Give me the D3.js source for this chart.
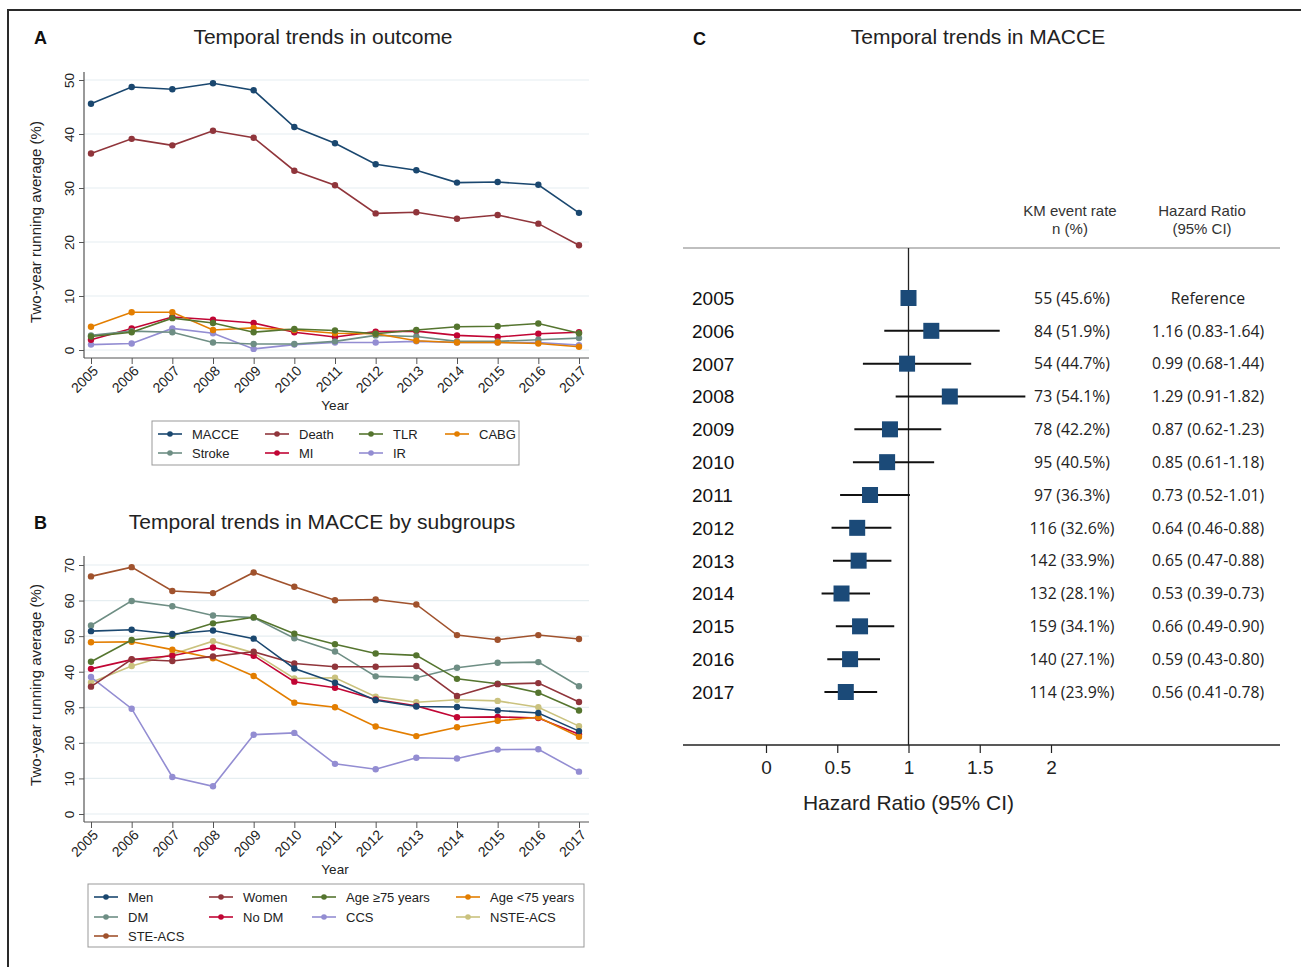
<!DOCTYPE html>
<html><head><meta charset="utf-8">
<script src="https://cdn.jsdelivr.net/npm/d3@7"></script>
<style>
body{margin:0;background:#fff;}
svg{display:block;font-family:"Liberation Sans",Arial,sans-serif;}
</style></head>
<body><svg id="c" width="1301" height="967"></svg>
<script>
// ---------- DATA ----------
const years = [2005,2006,2007,2008,2009,2010,2011,2012,2013,2014,2015,2016,2017];
const yTicksA = [0,10,20,30,40,50];
const yTicksB = [0,10,20,30,40,50,60,70];

// Panel A
const macce  = [45.6,48.7,48.3,49.4,48.1,41.3,38.3,34.4,33.3,31.0,31.1,30.6,25.4];
const death  = [36.4,39.1,37.9,40.6,39.3,33.2,30.5,25.3,25.5,24.3,25.0,23.4,19.4];
const tlr    = [2.5,3.3,5.9,5.0,3.3,3.9,3.6,3.0,3.7,4.3,4.4,4.9,3.1];
const cabg   = [4.3,7.0,7.0,3.7,4.1,3.7,3.1,3.0,1.7,1.4,1.4,1.2,0.6];
const stroke = [2.7,3.5,3.3,1.4,1.1,1.1,1.6,2.7,2.5,1.6,1.6,1.9,2.2];
const mi     = [1.9,4.0,6.1,5.6,5.0,3.3,2.4,3.4,3.5,2.7,2.4,3.0,3.3];
const ir     = [1.0,1.2,4.0,3.1,0.2,1.0,1.4,1.4,1.6,1.4,1.4,1.4,0.9];

// Panel B
const men     = [51.4,51.8,50.6,51.6,49.3,40.9,36.9,32.0,30.2,30.1,29.1,28.4,23.3];
const women   = [35.8,43.5,43.0,44.3,45.6,42.3,41.4,41.4,41.6,33.2,36.5,36.8,31.5];
const age75p  = [42.8,48.9,50.1,53.6,55.3,50.7,47.7,45.1,44.6,38.0,36.6,34.1,29.1];
const age75m  = [48.3,48.4,46.2,43.8,38.8,31.3,30.0,24.6,21.9,24.4,26.2,27.2,21.7];
const dm      = [53.0,59.9,58.4,55.8,55.2,49.4,45.7,38.7,38.3,41.1,42.5,42.7,35.9];
const nodm    = [40.8,43.4,44.5,46.8,44.5,37.2,35.5,32.2,30.4,27.2,27.3,27.0,22.4];
const ccs     = [38.5,29.6,10.4,7.8,22.3,22.8,14.1,12.6,15.8,15.6,18.1,18.2,11.9];
const nste    = [37.0,41.6,44.9,48.6,45.3,38.1,38.3,33.0,31.4,32.1,31.8,30.0,24.7];
const ste     = [66.8,69.4,62.7,62.1,67.9,63.9,60.1,60.3,58.9,50.3,49.0,50.3,49.2];

// Panel C
const kmText = ["55 (45.6%)","84 (51.9%)","54 (44.7%)","73 (54.1%)","78 (42.2%)","95 (40.5%)","97 (36.3%)","116 (32.6%)","142 (33.9%)","132 (28.1%)","159 (34.1%)","140 (27.1%)","114 (23.9%)"];
const hr   = [1.00,1.16,0.99,1.29,0.87,0.85,0.73,0.64,0.65,0.53,0.66,0.59,0.56];
const hrLo = [null,0.83,0.68,0.91,0.62,0.61,0.52,0.46,0.47,0.39,0.49,0.43,0.41];
const hrHi = [null,1.64,1.44,1.82,1.23,1.18,1.01,0.88,0.88,0.73,0.90,0.80,0.78];
const hrText = ["Reference","1.16 (0.83-1.64)","0.99 (0.68-1.44)","1.29 (0.91-1.82)","0.87 (0.62-1.23)","0.85 (0.61-1.18)","0.73 (0.52-1.01)","0.64 (0.46-0.88)","0.65 (0.47-0.88)","0.53 (0.39-0.73)","0.66 (0.49-0.90)","0.59 (0.43-0.80)","0.56 (0.41-0.78)"];
const hrTicks = [0,0.5,1,1.5,2];

const C = {navy:"#1a476f",maroon:"#90353b",forest:"#55752f",dkorange:"#e37e00",teal:"#6e8e84",cranberry:"#c10534",lavender:"#938dd2",khaki:"#cac27e",sienna:"#a0522d"};

const seriesA = [
  {name:"MACCE",v:macce,c:C.navy},{name:"Death",v:death,c:C.maroon},{name:"TLR",v:tlr,c:C.forest},{name:"CABG",v:cabg,c:C.dkorange},
  {name:"Stroke",v:stroke,c:C.teal},{name:"MI",v:mi,c:C.cranberry},{name:"IR",v:ir,c:C.lavender}];
const seriesB = [
  {name:"Men",v:men,c:C.navy},{name:"Women",v:women,c:C.maroon},{name:"Age \u226575 years",v:age75p,c:C.forest},{name:"Age <75 years",v:age75m,c:C.dkorange},
  {name:"DM",v:dm,c:C.teal},{name:"No DM",v:nodm,c:C.cranberry},{name:"CCS",v:ccs,c:C.lavender},{name:"NSTE-ACS",v:nste,c:C.khaki},
  {name:"STE-ACS",v:ste,c:C.sienna}];

const svg = d3.select("#c");

// frame
svg.append("rect").attr("x",8).attr("y",10).attr("width",1310).attr("height",980)
  .attr("fill","none").attr("stroke","#2a2a2a").attr("stroke-width",2);

function linePanel(o){
  const g = svg.append("g");
  const x = d3.scaleLinear().domain([2005,2017]).range([91,579]);
  const y = d3.scaleLinear().domain([0,o.ymax]).range([o.y0,o.y1]);
  g.selectAll(".gr").data(o.ticks).join("line")
    .attr("x1",84).attr("x2",589).attr("y1",d=>y(d)).attr("y2",d=>y(d))
    .attr("stroke","#e6eef1").attr("stroke-width",1.2);
  const ya = g.append("g").attr("transform","translate(84,0)")
    .call(d3.axisLeft(y).tickValues(o.ticks).tickSize(5).tickSizeOuter(0));
  ya.select(".domain").remove();
  ya.selectAll(".tick line").attr("stroke","#555");
  ya.selectAll(".tick text").attr("x",0).attr("y",0).attr("dy",0)
    .attr("text-anchor","middle").attr("font-size",13.5).attr("fill","#222")
    .attr("font-family","Liberation Sans, Arial, sans-serif")
    .attr("transform","translate(-14,0) rotate(-90)").attr("dominant-baseline","middle");
  g.append("line").attr("x1",84).attr("x2",84).attr("y1",o.top).attr("y2",o.bottom).attr("stroke","#555").attr("stroke-width",1.2);
  const xa = g.append("g").attr("transform",`translate(0,${o.bottom})`)
    .call(d3.axisBottom(x).tickValues(years).tickFormat(d3.format("d")).tickSize(6).tickSizeOuter(0));
  xa.select(".domain").remove();
  xa.selectAll(".tick line").attr("stroke","#555");
  xa.selectAll(".tick text").attr("font-size",14).attr("fill","#222")
    .attr("font-family","Liberation Sans, Arial, sans-serif")
    .attr("text-anchor","end").attr("dy",0).attr("y",0)
    .attr("transform","translate(5,11) rotate(-45)").attr("dominant-baseline","middle");
  g.append("line").attr("x1",84).attr("x2",589).attr("y1",o.bottom).attr("y2",o.bottom).attr("stroke","#555").attr("stroke-width",1.2);
  g.append("text").attr("x",335).attr("y",o.bottom+52).attr("text-anchor","middle").attr("font-size",13.5).attr("fill","#222").text("Year");
  g.append("text").attr("transform",`translate(41,${o.ylabY}) rotate(-90)`).attr("text-anchor","middle")
    .attr("font-size",15).attr("fill","#222").text("Two-year running average (%)");
  const ln = d3.line().x((d,i)=>x(years[i])).y(d=>y(d));
  o.series.slice().reverse().forEach(s=>{
    g.append("path").attr("d",ln(s.v)).attr("fill","none").attr("stroke",s.c).attr("stroke-width",1.6);
    g.selectAll(null).data(s.v).join("circle").attr("cx",(d,i)=>x(years[i])).attr("cy",d=>y(d)).attr("r",3.2).attr("fill",s.c);
  });
  svg.append("text").attr("x",o.titleX).attr("y",o.titleY).attr("text-anchor","middle").attr("font-size",21).attr("fill","#222").text(o.title);
  svg.append("text").attr("x",34).attr("y",o.titleY).attr("font-size",18).attr("font-weight","bold").attr("fill","#111").text(o.letter);
  const L = o.legend;
  g.append("rect").attr("x",L.x).attr("y",L.y).attr("width",L.w).attr("height",L.h).attr("fill","#fff").attr("stroke","#999");
  o.series.forEach((s,i)=>{
    const col = i % 4, row = Math.floor(i/4);
    const lx = L.cols[col], ly = L.rows[row];
    g.append("line").attr("x1",lx).attr("x2",lx+24).attr("y1",ly).attr("y2",ly).attr("stroke",s.c).attr("stroke-width",1.6);
    g.append("circle").attr("cx",lx+12).attr("cy",ly).attr("r",2.8).attr("fill",s.c);
    g.append("text").attr("x",lx+34).attr("y",ly).attr("dy","0.35em").attr("font-size",13).attr("fill","#222").text(s.name);
  });
}

linePanel({series:seriesA,ymax:50,ticks:yTicksA,y0:350,y1:80,top:72,bottom:358,ylabY:222,
  title:"Temporal trends in outcome",titleX:323,titleY:44,letter:"A",
  legend:{x:152,y:421,w:367,h:44,cols:[158,265,359,445],rows:[434,453]}});
linePanel({series:seriesB,ymax:70,ticks:yTicksB,y0:814,y1:565,top:556,bottom:822,ylabY:685,
  title:"Temporal trends in MACCE by subgroups",titleX:322,titleY:529,letter:"B",
  legend:{x:88,y:884,w:496,h:63,cols:[94,209,312,456],rows:[897,917,936]}});

// ---------- Panel C ----------
const gc = svg.append("g");
const hx = d3.scaleLinear().domain([0,2]).range([766,1051]);
const ry = d3.scaleLinear().domain([0,12]).range([298,692]);
svg.append("text").attr("x",978).attr("y",44).attr("text-anchor","middle").attr("font-size",21).attr("fill","#222").text("Temporal trends in MACCE");
svg.append("text").attr("x",693).attr("y",45).attr("font-size",18).attr("font-weight","bold").attr("fill","#111").text("C");

gc.append("line").attr("x1",683).attr("x2",1280).attr("y1",248).attr("y2",248).attr("stroke","#aaa").attr("stroke-width",1.3);
gc.append("line").attr("x1",hx(1)).attr("x2",hx(1)).attr("y1",248).attr("y2",745).attr("stroke","#222").attr("stroke-width",1.3);
const xa = gc.append("g").attr("transform","translate(0,745)")
  .call(d3.axisBottom(hx).tickValues(hrTicks).tickFormat(d=>String(d)).tickSize(8).tickSizeOuter(0).tickPadding(8));
xa.select(".domain").remove();
xa.selectAll(".tick line").attr("stroke","#222").attr("stroke-width",1.2);
xa.selectAll(".tick text").attr("font-size",19).attr("fill","#222").attr("font-family","Liberation Sans, Arial, sans-serif");
gc.append("line").attr("x1",683).attr("x2",1280).attr("y1",745).attr("y2",745).attr("stroke","#222").attr("stroke-width",1.3);
gc.append("text").attr("x",hx(1)).attr("y",810).attr("text-anchor","middle").attr("font-size",21).attr("fill","#222").text("Hazard Ratio (95% CI)");

const hdr = [["KM event rate","n (%)",1070],["Hazard Ratio","(95% CI)",1202]];
hdr.forEach(h=>{
  gc.append("text").attr("x",h[2]).attr("y",216).attr("text-anchor","middle").attr("font-size",15).attr("fill","#333").text(h[0]);
  gc.append("text").attr("x",h[2]).attr("y",234).attr("text-anchor","middle").attr("font-size",15).attr("fill","#333").text(h[1]);
});

years.forEach((yr,i)=>{
  const cy = ry(i);
  gc.append("text").attr("x",692).attr("y",cy).attr("dy","0.36em").attr("font-size",19).attr("fill","#111").text(yr);
  if(hrLo[i]!==null){
    gc.append("line").attr("x1",hx(hrLo[i])).attr("x2",hx(hrHi[i])).attr("y1",cy).attr("y2",cy).attr("stroke","#111").attr("stroke-width",2);
  }
  gc.append("rect").attr("x",hx(hr[i])-8).attr("y",cy-8).attr("width",16).attr("height",16).attr("fill","#1b4a78");
  gc.append("text").attr("x",1072).attr("y",cy).attr("dy","0.36em").attr("text-anchor","middle")
    .attr("font-family","Open Sans, sans-serif").attr("font-size",15.8).attr("fill","#222").text(kmText[i]);
  gc.append("text").attr("x",1208).attr("y",cy).attr("dy","0.36em").attr("text-anchor","middle")
    .attr("font-family","Open Sans, sans-serif").attr("font-size",15.8).attr("fill","#222").text(hrText[i]);
});
</script></body></html>
